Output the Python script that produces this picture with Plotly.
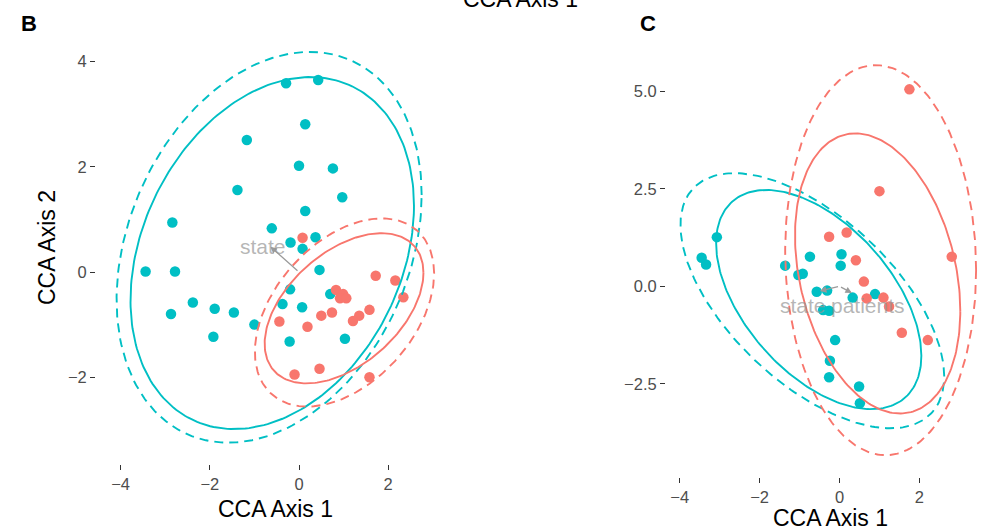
import numpy as np
import plotly.graph_objects as go

# ---------------- data ----------------
# Panel B: CCA site scores
b_teal_x = [-0.29, 0.43, 0.14, -1.17, 0.00, 0.76, -1.38, 0.97, 0.14, -2.84, -0.61, 0.37,
            -0.19, 0.08, -3.44, -2.78, 0.46, -0.20, 0.70, -2.38, -0.37, 0.07, -2.87, -1.89,
            -1.46, -1.00, -1.92, -0.21, 1.03]
b_teal_y = [3.59, 3.65, 2.81, 2.51, 2.02, 1.97, 1.56, 1.42, 1.16, 0.94, 0.83, 0.66,
            0.56, 0.44, 0.01, 0.01, 0.04, -0.33, -0.42, -0.58, -0.61, -0.67, -0.80, -0.70,
            -0.77, -1.00, -1.23, -1.32, -1.27]
b_red_x = [0.08, 1.72, 2.16, 2.34, 0.83, 0.99, 0.92, 1.06, 0.50, 0.74, 1.58, 1.35,
           1.21, -0.44, 0.19, 0.46, -0.10, 1.58]
b_red_y = [0.65, -0.07, -0.16, -0.48, -0.34, -0.42, -0.50, -0.50, -0.83, -0.77, -0.72, -0.83,
           -0.93, -0.94, -1.04, -1.84, -1.95, -2.00]

# Panel C: CCA site scores
c_teal_x = [-3.07, -3.45, -3.34, -1.36, -0.74, 0.05, 0.03, -1.03, -0.92, -0.57, -0.31, 0.33,
            0.89, -0.41, -0.26, -0.11, -0.24, -0.26, 0.49, 0.51]
c_teal_y = [1.26, 0.73, 0.56, 0.53, 0.76, 0.82, 0.53, 0.29, 0.32, -0.14, -0.11, -0.29,
            -0.20, -0.61, -0.63, -1.38, -1.91, -2.33, -2.57, -3.00]
c_red_x = [1.75, 1.00, 2.81, -0.26, 0.18, 0.41, 0.61, 0.68, 1.10, 1.24, 1.56, 2.21]
c_red_y = [5.05, 2.44, 0.76, 1.27, 1.38, 0.67, 0.12, -0.31, -0.29, -0.52, -1.19, -1.38]

# Group ellipses: centre (cx, cy) and shape matrix (sxx, sxy, syy)
b_teal_t_center, b_teal_t_shape = (-0.60, 0.36), (10.1, 2.86, 11.2)
b_teal_n_center, b_teal_n_shape = (-0.67, 0.47), (11.7, 3.40, 13.8)
b_red_t_center, b_red_t_shape = (1.01, -0.69), (3.17, 1.20, 2.04)
b_red_n_center, b_red_n_shape = (1.02, -0.77), (4.04, 1.50, 3.20)
c_teal_t_center, c_teal_t_shape = (-0.52, -0.34), (6.6, -3.7, 7.9)
c_teal_n_center, c_teal_n_shape = (-0.68, -0.37), (10.9, -6.4, 10.7)
c_red_t_center, c_red_t_shape = (0.955, 0.33), (4.28, -2.0, 12.9)
c_red_n_center, c_red_n_shape = (1.03, 0.67), (5.71, -0.6, 25.0)

# Biplot arrows: tip coordinates and label positions
b_arrow_names = ["state"]
b_arrow_tips = [(-0.64, 0.48)]
b_label_pos = [(-0.81, 0.49)]
c_arrow_names = ["state", "patients"]
c_arrow_tips = [(-0.49, -0.12), (0.31, -0.17)]
c_label_pos = [(-0.91, -0.48), (0.72, -0.48)]

b_xticks = [-4, -2, 0, 2]
b_yticks = [-2, 0, 2, 4]
c_xticks = [-4, -2, 0, 2]
c_yticks = [-2.5, 0, 2.5, 5.0]

# ---------------- styling / layout ----------------
W, H = 982, 532
TEAL = "#00BFC4"
RED = "#F8766D"
FONT = "Liberation Sans, Arial, Helvetica, sans-serif"


def ellipse(center, shape, n=240):
    sxx, sxy, syy = shape
    L = np.linalg.cholesky(np.array([[sxx, sxy], [sxy, syy]]))
    t = np.linspace(0, 2 * np.pi, n)
    pts = L @ np.vstack([np.cos(t), np.sin(t)])
    return pts[0] + center[0], pts[1] + center[1]


def px_range(p0, p1, origin, scale):
    return [(p0 - origin) / scale, (p1 - origin) / scale]


# panel pixel boxes (left, right, top, bottom) and data origin/scale in pixels
B_box = (96, 455, 30, 464)
B_x0, B_xs = 299.0, 44.6
B_y0, B_ys = 272.0, 52.6
C_box = (666, 982, 45, 476.7)
C_x0, C_xs = 839.5, 39.95
C_y0, C_ys = 286.3, 39.0

fig = go.Figure()


def add_panel(xa, ya, teal, red, ells):
    fig.add_trace(go.Scatter(x=teal[0], y=teal[1], mode="markers", xaxis=xa, yaxis=ya,
                             marker=dict(color=TEAL, size=10.5), showlegend=False))
    fig.add_trace(go.Scatter(x=red[0], y=red[1], mode="markers", xaxis=xa, yaxis=ya,
                             marker=dict(color=RED, size=10.5), showlegend=False))
    for (c, s, col, dash) in ells:
        ex, ey = ellipse(c, s)
        fig.add_trace(go.Scatter(x=ex, y=ey, mode="lines", xaxis=xa, yaxis=ya,
                                 line=dict(color=col, width=1.9, dash=dash),
                                 showlegend=False, hoverinfo="skip"))


add_panel("x", "y", (b_teal_x, b_teal_y), (b_red_x, b_red_y), [
    (b_teal_t_center, b_teal_t_shape, TEAL, "solid"),
    (b_teal_n_center, b_teal_n_shape, TEAL, "9px,6px"),
    (b_red_t_center, b_red_t_shape, RED, "solid"),
    (b_red_n_center, b_red_n_shape, RED, "9px,6px"),
])
add_panel("x2", "y2", (c_teal_x, c_teal_y), (c_red_x, c_red_y), [
    (c_teal_t_center, c_teal_t_shape, TEAL, "solid"),
    (c_teal_n_center, c_teal_n_shape, TEAL, "9px,6px"),
    (c_red_t_center, c_red_t_shape, RED, "solid"),
    (c_red_n_center, c_red_n_shape, RED, "9px,6px"),
])

annotations = []
for xr, yr, tips, labels, names in [("x", "y", b_arrow_tips, b_label_pos, b_arrow_names),
                                    ("x2", "y2", c_arrow_tips, c_label_pos, c_arrow_names)]:
    for tip, lab, name in zip(tips, labels, names):
        annotations.append(dict(x=tip[0], y=tip[1], ax=0, ay=0, xref=xr, yref=yr,
                                axref=xr, ayref=yr, showarrow=True, arrowhead=2,
                                arrowsize=1, arrowwidth=1.3, arrowcolor="#9a9a9a", text=""))
        annotations.append(dict(x=lab[0], y=lab[1], xref=xr, yref=yr, showarrow=False,
                                text=name, font=dict(family=FONT, size=21,
                                                     color="rgba(150,150,150,0.7)")))


def paper_text(text, px, py, size, color="#000000", bold=False, angle=0):
    annotations.append(dict(x=px / W, y=1 - py / H, xref="paper", yref="paper",
                            xanchor="center", yanchor="middle", showarrow=False,
                            text=f"<b>{text}</b>" if bold else text, textangle=angle,
                            font=dict(family=FONT, size=size, color=color)))


paper_text("B", 29, 23, 22, bold=True)
paper_text("C", 647.5, 23, 22, bold=True)
paper_text("CCA Axis 1", 275, 509, 23)
paper_text("CCA Axis 1", 830, 518, 23)
paper_text("CCA Axis 2", 47, 248, 23, angle=-90)
paper_text("CCA Axis 1", 520, -1, 23)

axis_common = dict(showgrid=False, zeroline=False, showline=False, ticks="outside",
                   ticklen=5, tickwidth=1.4, tickcolor="#333333",
                   tickfont=dict(family=FONT, size=16.5, color="#4D4D4D"))

fig.update_layout(
    width=W, height=H, margin=dict(l=0, r=0, t=0, b=0),
    paper_bgcolor="white", plot_bgcolor="white", showlegend=False,
    xaxis=dict(domain=[B_box[0] / W, B_box[1] / W],
               range=px_range(B_box[0], B_box[1], B_x0, B_xs),
               tickvals=b_xticks, anchor="y", **axis_common),
    yaxis=dict(domain=[1 - B_box[3] / H, 1 - B_box[2] / H],
               range=[(B_y0 - B_box[3]) / B_ys, (B_y0 - B_box[2]) / B_ys],
               tickvals=b_yticks, anchor="x", **axis_common),
    xaxis2=dict(domain=[C_box[0] / W, C_box[1] / W],
                range=px_range(C_box[0], C_box[1], C_x0, C_xs),
                tickvals=c_xticks, anchor="y2", **axis_common),
    yaxis2=dict(domain=[1 - C_box[3] / H, 1 - C_box[2] / H],
                range=[(C_y0 - C_box[3]) / C_ys, (C_y0 - C_box[2]) / C_ys],
                tickvals=c_yticks, tickformat=".1f", anchor="x2", **axis_common),
    annotations=annotations,
)

fig.write_html("out.html")
